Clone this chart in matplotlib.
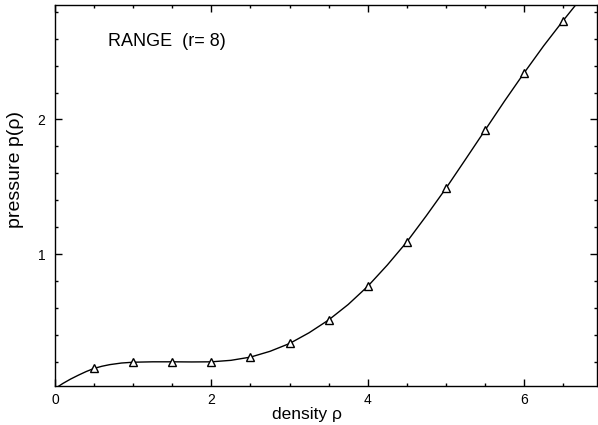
import matplotlib
matplotlib.use("Agg")
import matplotlib.pyplot as plt
from matplotlib.ticker import MultipleLocator

plt.rcParams['font.family'] = ['Liberation Sans', 'DejaVu Sans']

# simulation points (triangles)
rho_pts = [0.5, 1.0, 1.5, 2.0, 2.5, 3.0, 3.5, 4.0, 4.5, 5.0, 5.5, 6.0, 6.5]
p_pts = [0.152, 0.197, 0.197, 0.197, 0.236, 0.336, 0.509, 0.760, 1.091, 1.488, 1.922, 2.346, 2.735]

# theoretical curve
rho_curve = [0.0, 0.1, 0.2, 0.3, 0.4, 0.5, 0.6, 0.7, 0.85, 1.0, 1.25, 1.5, 1.75, 2.0, 2.25,
             2.5, 2.75, 3.0, 3.25, 3.5, 3.75, 4.0, 4.25, 4.5, 4.75, 5.0, 5.25, 5.5, 5.75,
             6.0, 6.25, 6.5, 6.7]
p_curve = [0.0, 0.038, 0.071, 0.100, 0.127, 0.150, 0.166, 0.178, 0.190, 0.196, 0.199, 0.199,
           0.198, 0.199, 0.210, 0.234, 0.277, 0.335, 0.415, 0.510, 0.625, 0.760, 0.918, 1.090,
           1.285, 1.488, 1.703, 1.920, 2.137, 2.346, 2.547, 2.735, 2.88]

x_labels = ['0', '2', '4', '6']
y_labels = ['1', '2']

fig = plt.figure(figsize=(5.98, 4.25), dpi=100)
ax = fig.add_axes([0.092, 0.092, 0.906, 0.896])

ax.plot(rho_curve, p_curve, color='black', lw=1.0)
ax.plot(rho_pts, p_pts, linestyle='none', marker='^', ms=6, mfc='white', mec='black', mew=1.0)

ax.set_xlim(0, 6.93)
ax.set_ylim(0.02, 2.85)

ax.set_xticks([0, 2, 4, 6])
ax.set_xticklabels(x_labels)
ax.set_yticks([1, 2])
ax.set_yticklabels(y_labels)
ax.xaxis.set_minor_locator(MultipleLocator(0.5))
ax.yaxis.set_minor_locator(MultipleLocator(0.2))
ax.tick_params(which='both', direction='in', top=True, right=True, labelsize=10, width=1.0)
ax.tick_params(which='major', length=5)
ax.tick_params(axis='x', which='major', pad=5)
ax.tick_params(axis='y', which='major', pad=7)
ax.tick_params(which='minor', length=2.5)

for s in ax.spines.values():
    s.set_linewidth(1.0)

ax.set_xlabel('density ρ', fontsize=12.5, labelpad=0)
ax.set_ylabel('pressure p(ρ)', fontsize=14, labelpad=10)
ax.xaxis.label.set_x(0.466)
ax.yaxis.label.set_y(0.567)

ax.text(0.098, 0.905, 'RANGE  (r= 8)', transform=ax.transAxes, fontsize=13, va='center')

fig.savefig('out.png', dpi=100)
